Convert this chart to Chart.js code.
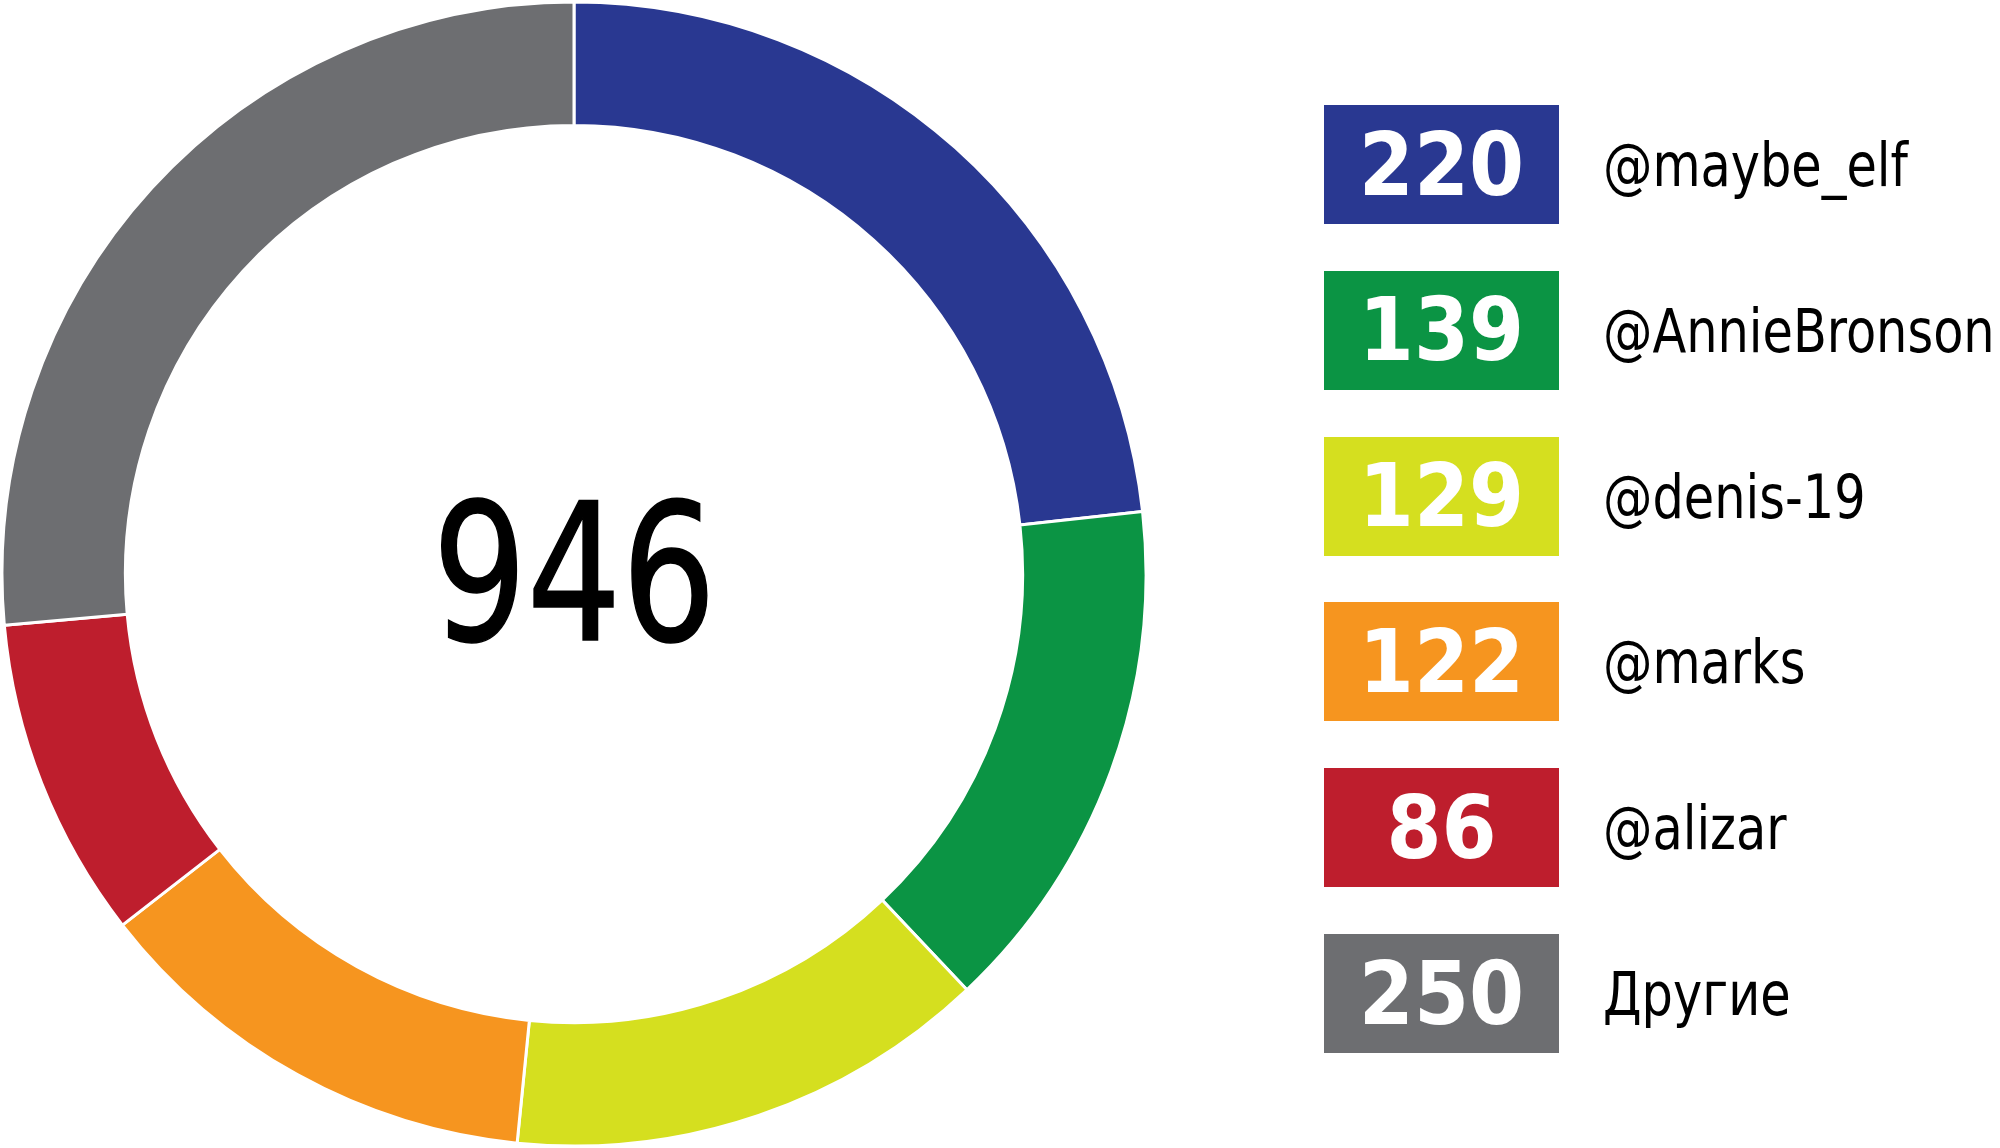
<!DOCTYPE html>
<html>
<head>
<meta charset="utf-8">
<script src="https://cdn.jsdelivr.net/npm/chart.js@4"></script>
<style>
  html,body{margin:0;padding:0;background:#fff;width:2000px;height:1148px;overflow:hidden;}
  #wrap{position:absolute;left:0;top:0;width:1148px;height:1148px;}
  #center{position:absolute;left:0;top:0;width:1148px;height:1148px;display:flex;align-items:center;justify-content:center;pointer-events:none;}
  #center span{font-family:"DejaVu Sans Condensed","DejaVu Sans",sans-serif;font-size:190px;color:#000;display:inline-block;transform:scaleX(0.87);line-height:1;margin-top:2px;-webkit-text-stroke:1.5px #000;}
  .item{position:absolute;left:1324px;height:119px;width:700px;}
  .box{position:absolute;left:0;top:0;width:235px;height:119px;display:flex;align-items:center;justify-content:center;color:#fff;font-family:"DejaVu Sans Condensed","DejaVu Sans",sans-serif;font-weight:bold;font-size:88px;line-height:1;}
  .lbl{position:absolute;left:279px;top:0;height:119px;display:flex;align-items:center;font-family:"DejaVu Sans Condensed","DejaVu Sans",sans-serif;font-size:61px;color:#000;white-space:nowrap;transform:scaleX(0.9);transform-origin:left center;}
</style>
</head>
<body>
<div id="wrap"><canvas id="c" width="1148" height="1148"></canvas></div>
<div id="center"><span id="total"></span></div>
<div id="legend"></div>
<script>
const categories = ["@maybe_elf", "@AnnieBronson", "@denis-19", "@marks", "@alizar", "Другие"];
const values = [220, 139, 129, 122, 86, 250];
const colors = ["#293891", "#0b9444", "#d5df1f", "#f6951f", "#be1e2d", "#6d6e71"];
const totalLabel = "946";

new Chart(document.getElementById('c'), {
  type: 'doughnut',
  data: {
    labels: categories,
    datasets: [{
      data: values,
      backgroundColor: colors,
      borderColor: '#ffffff',
      borderWidth: 3,
      radius: 572,
      cutout: 449
    }]
  },
  options: {
    responsive: false,
    animation: false,
    layout: { padding: 0 },
    plugins: { legend: { display: false }, tooltip: { enabled: false } }
  }
});

document.getElementById('total').textContent = totalLabel;
const legend = document.getElementById('legend');
categories.forEach((cat, i) => {
  const item = document.createElement('div');
  item.className = 'item';
  item.style.top = (105 + i * 165.8) + 'px';
  const box = document.createElement('div');
  box.className = 'box';
  box.style.background = colors[i];
  box.textContent = values[i];
  const lbl = document.createElement('div');
  lbl.className = 'lbl';
  lbl.textContent = cat;
  item.appendChild(box);
  item.appendChild(lbl);
  legend.appendChild(item);
});
</script>
</body>
</html>
